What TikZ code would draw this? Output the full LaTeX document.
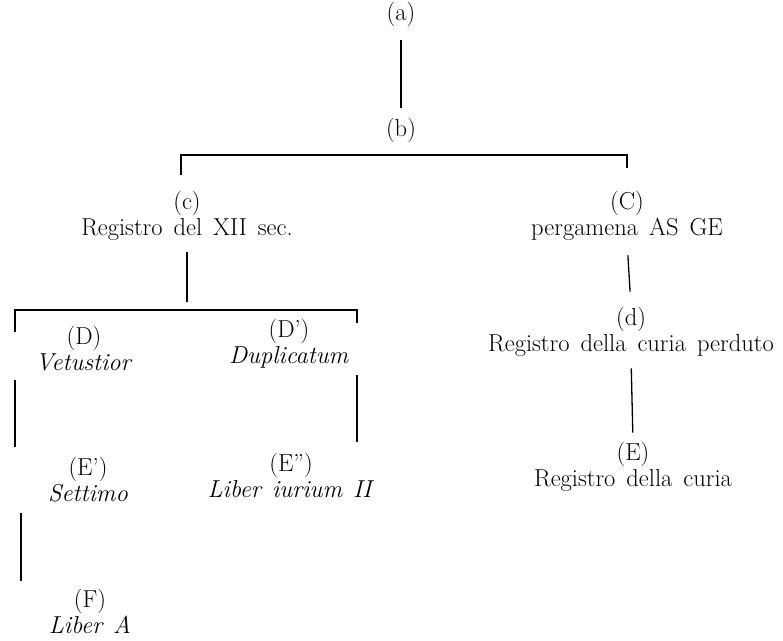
\documentclass[tikz,border=0pt]{standalone}
\newcommand\lblfont{\fontsize{24.5}{26}\selectfont\spaceskip=11pt\relax}
\tikzset{
  lbl/.style={inner sep=0pt,align=center,font=\lblfont},
}
\begin{document}
\begin{tikzpicture}[x=1pt,y=1pt,line width=1.3pt]
\useasboundingbox (0,0) rectangle (783,640);
\node[lbl] (a) at (401,626) {(a)};
\node[lbl] (b) at (401,510) {(b)};
\node[lbl] (c) at (187,424) {(c)\\Registro del XII sec.};
\node[lbl] (C) at (627,424) {(C)\\pergamena AS GE};
\node[lbl] (D) at (84,291) {(D)\\\textit{Vetustior}};
\node[lbl] (Dp) at (289,296) {(D')\\\textit{Duplicatum}};
\node[lbl] (Ep) at (88,160) {(E')\\\textit{Settimo}};
\node[lbl] (Epp) at (291,165) {(E'')\\\textit{Liber iurium II}};
\node[lbl] (F) at (90,29) {(F)\\\textit{Liber A}};
\node[lbl] (d) at (631,308) {(d)\\Registro della curia perduto};
\node[lbl] (E) at (633,173) {(E)\\Registro della curia};
% brackets
\coordinate (c1) at (181,465);
\coordinate (c2) at (627,472);
\coordinate (d1) at (15,308);
\coordinate (d2) at (357,317);
\coordinate (e1) at (21,0);
\draw (c1) -- ++(0,20) -| (c2);
\draw (d1) -- ++(0,22) -| (d2);
% stems
\draw[shorten <=13pt,shorten >=9pt] (a) -- (b);
\draw[shorten <=11pt] (c.south) -- ++(0,-61);
\draw[shorten <=8pt,shorten >=10pt] (D.south -| d1) -- (Ep.north -| d1);
\draw[shorten <=6pt,shorten >=10pt] (Dp.south -| d2) -- (Epp.north -| d2);
\draw[shorten <=10pt,shorten >=7pt] (Ep.south -| e1) -- (F.north -| e1);
\draw[shorten <=14pt,shorten >=15pt] (C.south) -- (d.north);
\draw[shorten <=11pt,shorten >=9pt] (d.south) -- (E.north);
\end{tikzpicture}
\end{document}
